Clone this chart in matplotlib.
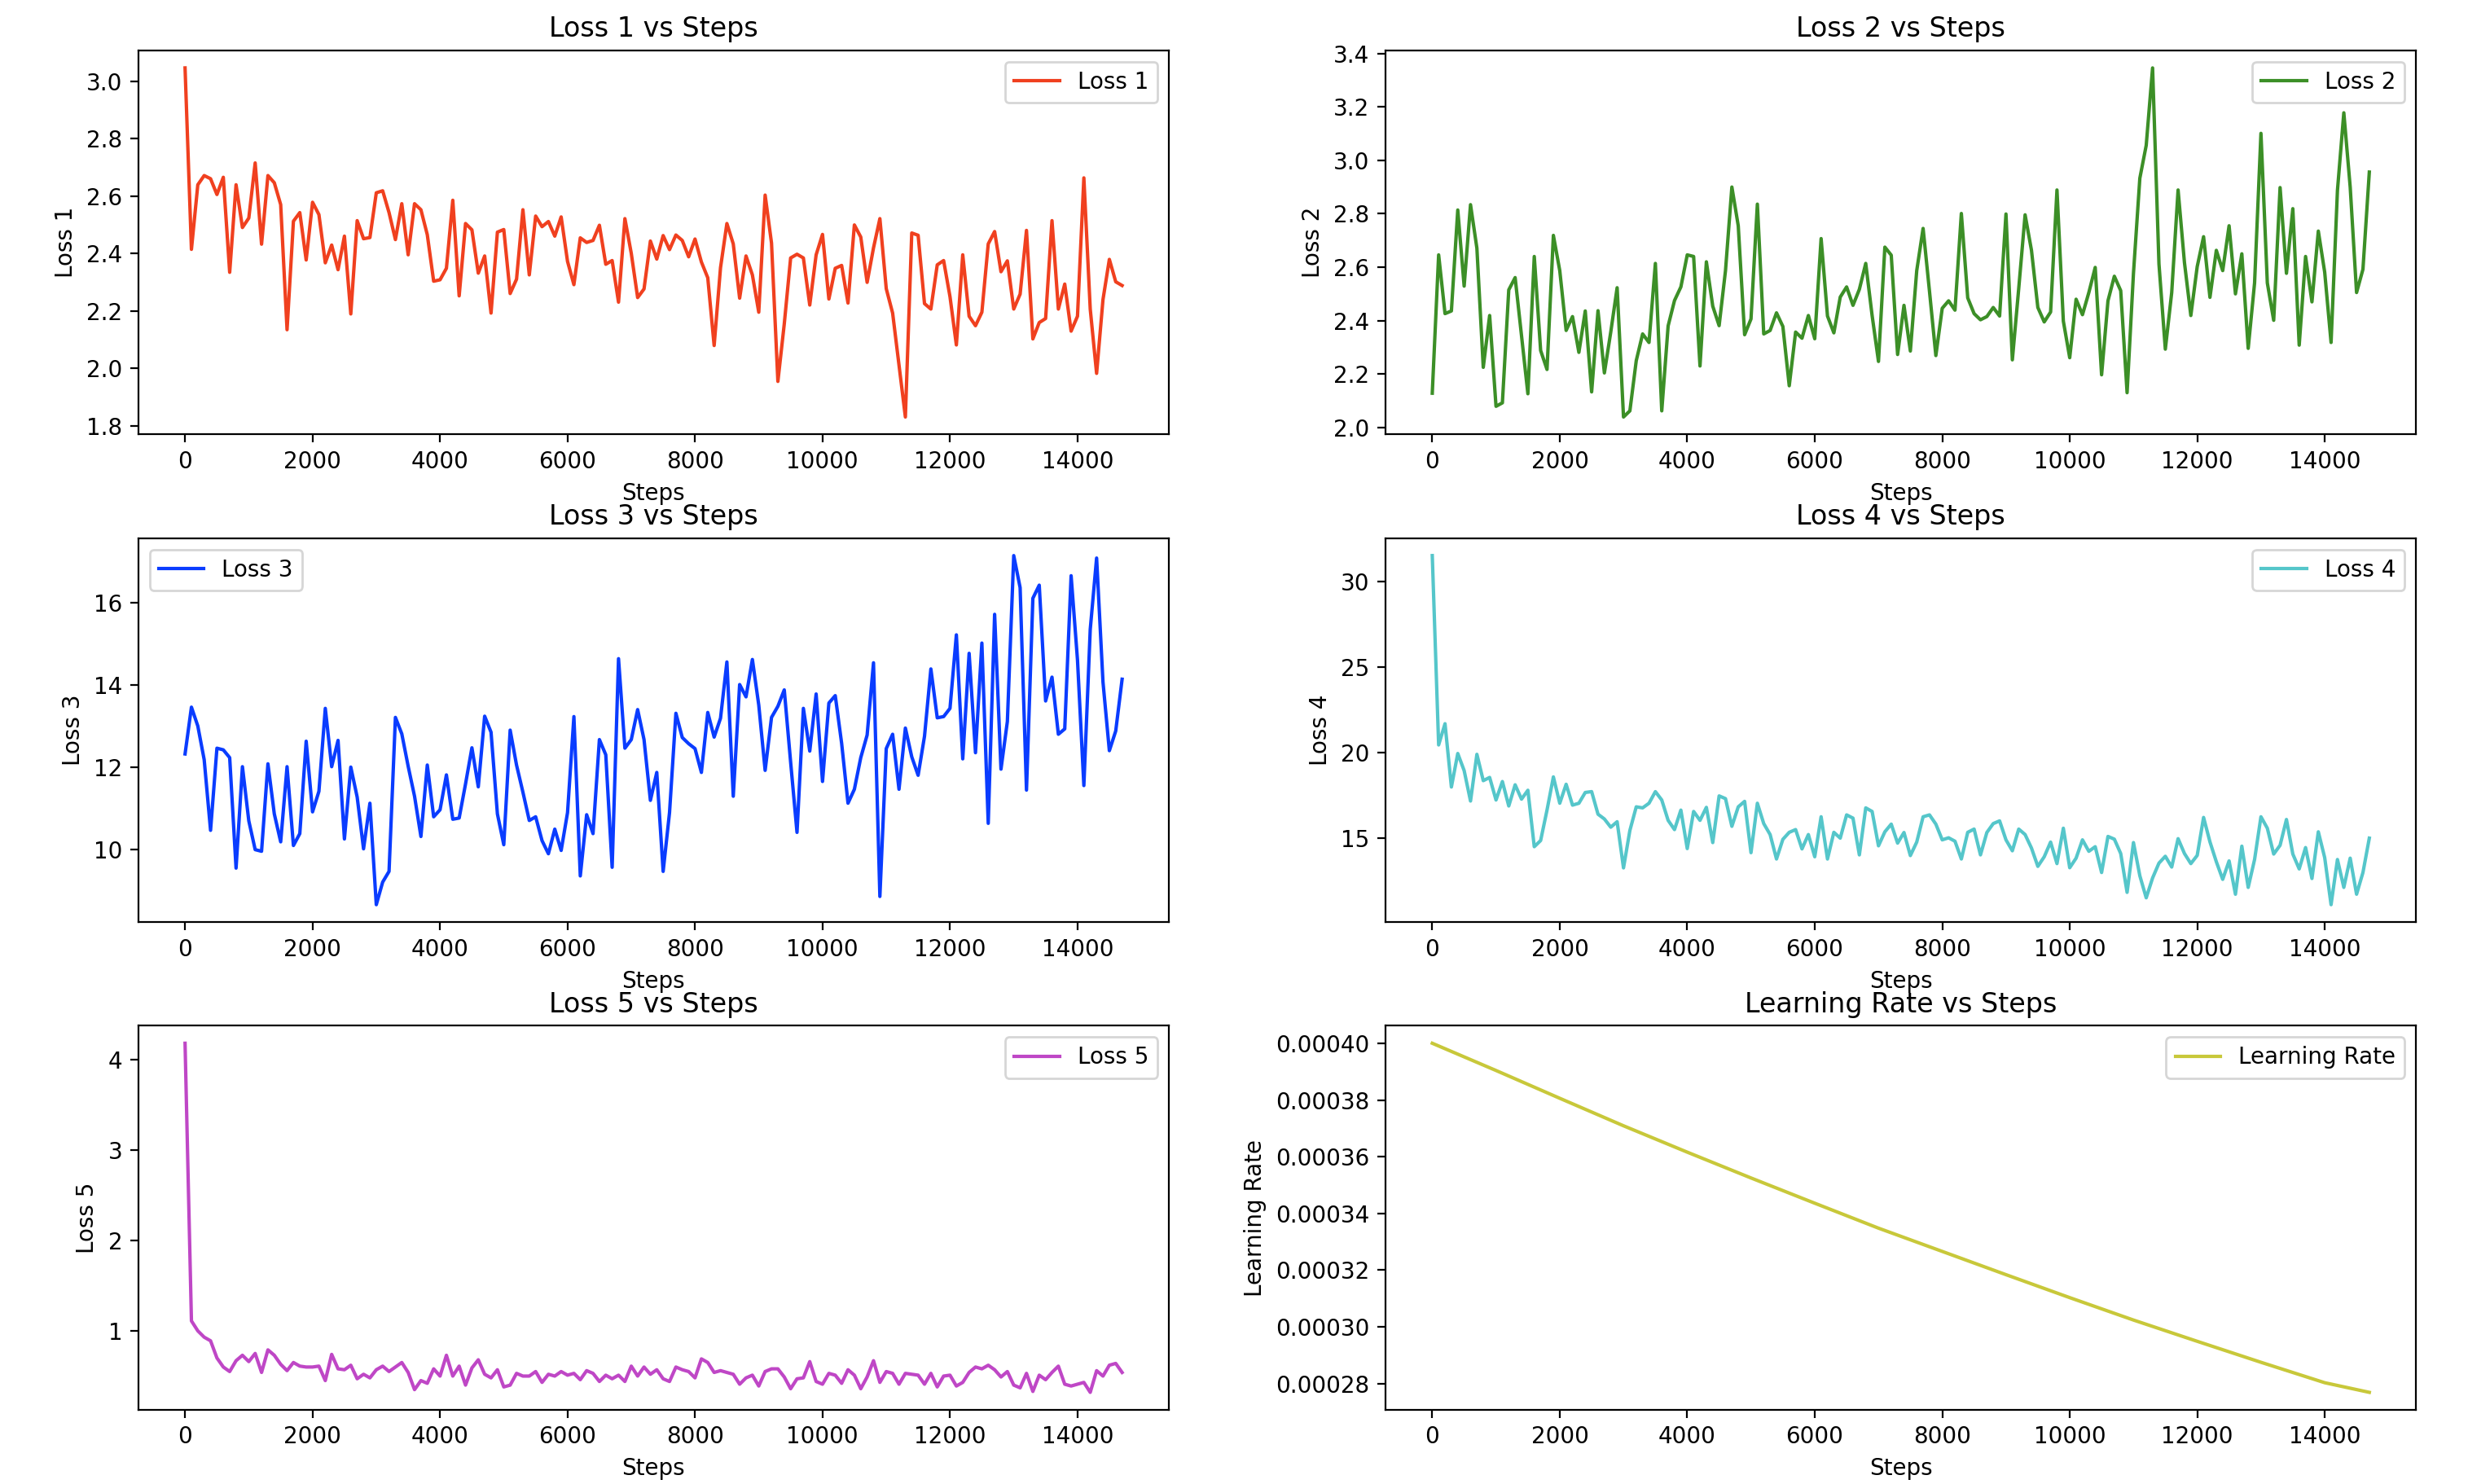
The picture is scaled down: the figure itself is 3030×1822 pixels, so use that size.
import numpy as np
import matplotlib.pyplot as plt
from matplotlib.ticker import MultipleLocator

# steps logged every 100
steps = np.arange(0, 14800, 100)

loss1 = [3.046, 2.414, 2.639, 2.671, 2.660, 2.605, 2.665, 2.334, 2.639, 2.490,
         2.523, 2.715, 2.432, 2.671, 2.646, 2.570, 2.134, 2.512, 2.542, 2.377,
         2.578, 2.535, 2.367, 2.429, 2.343, 2.460, 2.189, 2.514, 2.451, 2.455,
         2.611, 2.618, 2.542, 2.448, 2.573, 2.395, 2.573, 2.552, 2.465, 2.303,
         2.308, 2.348, 2.585, 2.252, 2.504, 2.482, 2.331, 2.391, 2.192, 2.474,
         2.483, 2.260, 2.310, 2.552, 2.325, 2.530, 2.493, 2.511, 2.460, 2.527,
         2.372, 2.291, 2.454, 2.438, 2.445, 2.498, 2.362, 2.375, 2.230, 2.521,
         2.400, 2.246, 2.276, 2.443, 2.380, 2.462, 2.413, 2.464, 2.445, 2.388,
         2.450, 2.370, 2.315, 2.079, 2.350, 2.504, 2.433, 2.244, 2.391, 2.325,
         2.195, 2.603, 2.436, 1.954, 2.154, 2.384, 2.397, 2.384, 2.220, 2.395,
         2.466, 2.241, 2.348, 2.358, 2.227, 2.499, 2.457, 2.299, 2.419, 2.521,
         2.277, 2.192, 2.012, 1.830, 2.471, 2.463, 2.225, 2.206, 2.360, 2.375,
         2.249, 2.081, 2.395, 2.181, 2.148, 2.195, 2.433, 2.476, 2.336, 2.374,
         2.206, 2.258, 2.480, 2.102, 2.159, 2.173, 2.514, 2.206, 2.293, 2.129,
         2.181, 2.663, 2.206, 1.982, 2.239, 2.379, 2.301, 2.288]

loss2 = [2.128, 2.646, 2.426, 2.436, 2.814, 2.529, 2.834, 2.671, 2.225, 2.419,
         2.079, 2.092, 2.515, 2.561, 2.342, 2.126, 2.640, 2.288, 2.217, 2.719,
         2.587, 2.363, 2.415, 2.281, 2.436, 2.133, 2.437, 2.204, 2.357, 2.523,
         2.039, 2.062, 2.250, 2.350, 2.318, 2.614, 2.062, 2.380, 2.475, 2.526,
         2.646, 2.640, 2.230, 2.620, 2.454, 2.381, 2.587, 2.900, 2.755, 2.347,
         2.406, 2.836, 2.350, 2.363, 2.429, 2.378, 2.156, 2.357, 2.334, 2.419,
         2.332, 2.707, 2.417, 2.354, 2.488, 2.526, 2.457, 2.517, 2.614, 2.419,
         2.247, 2.675, 2.645, 2.273, 2.457, 2.286, 2.587, 2.745, 2.510, 2.269,
         2.446, 2.474, 2.439, 2.801, 2.485, 2.426, 2.403, 2.415, 2.449, 2.417,
         2.799, 2.253, 2.520, 2.796, 2.663, 2.449, 2.395, 2.432, 2.889, 2.398,
         2.261, 2.480, 2.422, 2.505, 2.599, 2.197, 2.474, 2.566, 2.512, 2.130,
         2.577, 2.933, 3.056, 3.346, 2.612, 2.293, 2.505, 2.889, 2.617, 2.419,
         2.602, 2.714, 2.487, 2.663, 2.587, 2.755, 2.500, 2.650, 2.296, 2.541,
         3.101, 2.541, 2.401, 2.898, 2.577, 2.819, 2.308, 2.640, 2.470, 2.735,
         2.581, 2.318, 2.887, 3.178, 2.900, 2.505, 2.592, 2.956]

loss3 = [12.32, 13.46, 13.00, 12.18, 10.46, 12.46, 12.42, 12.23, 9.54, 12.01,
         10.69, 9.99, 9.95, 12.08, 10.86, 10.18, 12.01, 10.09, 10.38, 12.63,
         10.91, 11.41, 13.43, 12.01, 12.65, 10.25, 12.00, 11.27, 10.01, 11.12,
         8.65, 9.20, 9.46, 13.21, 12.81, 12.02, 11.29, 10.31, 12.05, 10.79,
         10.96, 11.81, 10.73, 10.76, 11.59, 12.47, 11.52, 13.24, 12.85, 10.86,
         10.11, 12.90, 12.05, 11.39, 10.70, 10.79, 10.21, 9.89, 10.49, 9.97,
         10.89, 13.23, 9.35, 10.84, 10.38, 12.67, 12.30, 9.56, 14.64, 12.46,
         12.67, 13.40, 12.67, 11.19, 11.87, 9.46, 10.89, 13.31, 12.72, 12.57,
         12.45, 11.87, 13.33, 12.73, 13.19, 14.56, 11.29, 14.01, 13.71, 14.62,
         13.51, 11.92, 13.21, 13.48, 13.88, 12.12, 10.41, 13.43, 12.39, 13.78,
         11.65, 13.56, 13.74, 12.58, 11.12, 11.46, 12.23, 12.78, 14.54, 8.85,
         12.45, 12.80, 11.46, 12.95, 12.25, 11.80, 12.75, 14.39, 13.20, 13.23,
         13.43, 15.22, 12.20, 14.77, 12.35, 15.02, 10.63, 15.72, 11.95, 13.11,
         17.15, 16.37, 11.44, 16.11, 16.43, 13.61, 14.19, 12.80, 12.93, 16.66,
         14.61, 11.55, 15.35, 17.09, 14.07, 12.40, 12.88, 14.14]

loss4 = [31.52, 20.45, 21.69, 17.99, 19.95, 18.95, 17.17, 19.90, 18.36, 18.55,
         17.23, 18.31, 16.88, 18.12, 17.28, 17.80, 14.50, 14.86, 16.64, 18.58,
         17.04, 18.15, 16.93, 17.04, 17.67, 17.72, 16.40, 16.12, 15.64, 15.96,
         13.26, 15.45, 16.83, 16.77, 17.04, 17.72, 17.23, 16.04, 15.50, 16.64,
         14.39, 16.56, 16.04, 16.80, 14.74, 17.47, 17.31, 15.69, 16.83, 17.15,
         14.15, 17.04, 15.85, 15.21, 13.78, 14.93, 15.34, 15.50, 14.37, 15.21,
         13.91, 16.25, 13.78, 15.34, 15.00, 16.36, 16.17, 14.02, 16.77, 16.56,
         14.55, 15.37, 15.82, 14.71, 15.33, 13.98, 14.77, 16.25, 16.36, 15.82,
         14.90, 15.02, 14.82, 13.78, 15.34, 15.53, 14.02, 15.33, 15.85, 16.01,
         14.90, 14.26, 15.53, 15.21, 14.42, 13.35, 13.91, 14.77, 13.51, 15.58,
         13.27, 13.83, 14.90, 14.23, 14.50, 12.99, 15.10, 14.94, 14.10, 11.83,
         14.74, 12.80, 11.51, 12.67, 13.54, 13.94, 13.31, 14.97, 14.10, 13.51,
         13.99, 16.21, 14.78, 13.62, 12.59, 13.67, 11.72, 14.53, 12.12, 13.75,
         16.25, 15.58, 14.07, 14.58, 16.09, 14.07, 13.20, 14.45, 12.64, 15.37,
         13.86, 11.11, 13.75, 12.12, 13.83, 11.72, 12.99, 15.00]

loss5 = [4.18, 1.11, 1.00, 0.93, 0.89, 0.70, 0.60, 0.55, 0.67, 0.73,
         0.66, 0.75, 0.54, 0.79, 0.73, 0.63, 0.56, 0.65, 0.61, 0.60,
         0.60, 0.61, 0.45, 0.74, 0.58, 0.57, 0.62, 0.47, 0.52, 0.48,
         0.57, 0.61, 0.55, 0.60, 0.65, 0.54, 0.35, 0.45, 0.42, 0.58,
         0.50, 0.73, 0.50, 0.61, 0.40, 0.59, 0.68, 0.52, 0.48, 0.57,
         0.38, 0.40, 0.53, 0.50, 0.50, 0.55, 0.43, 0.52, 0.50, 0.55,
         0.51, 0.53, 0.46, 0.56, 0.53, 0.44, 0.51, 0.47, 0.51, 0.44,
         0.61, 0.50, 0.60, 0.52, 0.57, 0.47, 0.44, 0.60, 0.57, 0.55,
         0.48, 0.69, 0.65, 0.54, 0.56, 0.54, 0.52, 0.41, 0.48, 0.51,
         0.39, 0.55, 0.58, 0.58, 0.49, 0.36, 0.47, 0.48, 0.66, 0.44,
         0.41, 0.53, 0.51, 0.42, 0.57, 0.51, 0.36, 0.49, 0.67, 0.43,
         0.55, 0.53, 0.41, 0.53, 0.52, 0.51, 0.41, 0.53, 0.38, 0.50,
         0.51, 0.39, 0.43, 0.54, 0.60, 0.58, 0.62, 0.57, 0.49, 0.55,
         0.40, 0.37, 0.53, 0.33, 0.51, 0.46, 0.54, 0.61, 0.41, 0.39,
         0.41, 0.43, 0.32, 0.56, 0.50, 0.62, 0.64, 0.54]

# learning rate read every 1000 steps (plus the last step)
lr_steps = [0, 1000, 2000, 3000, 4000, 5000, 6000, 7000, 8000, 9000,
            10000, 11000, 12000, 13000, 14000, 14700]
lr = [0.000400, 0.0003904, 0.0003806, 0.0003709, 0.0003616, 0.0003525,
      0.0003436, 0.0003348, 0.0003266, 0.0003184, 0.0003103, 0.0003024,
      0.0002949, 0.0002875, 0.0002803, 0.0002769]

panels = [
    (steps, loss1, 'Loss 1', '#f0401f'),
    (steps, loss2, 'Loss 2', '#3c8f27'),
    (steps, loss3, 'Loss 3', '#0a3cff'),
    (steps, loss4, 'Loss 4', '#55c6ca'),
    (steps, loss5, 'Loss 5', '#bf47c6'),
    (lr_steps, lr, 'Learning Rate', '#c8c83a'),
]

fig, axes = plt.subplots(3, 2, figsize=(15.15, 9.11))
fig.subplots_adjust(left=0.056, right=0.979, top=0.966, bottom=0.05,
                    wspace=0.21, hspace=0.27)

for ax, (x, y, name, color) in zip(axes.flat, panels):
    ax.plot(x, y, color=color, linewidth=1.5, label=name)
    ax.set_title(f'{name} vs Steps')
    ax.set_xlabel('Steps')
    ax.set_ylabel(name)
    ax.legend()

axes[0, 1].yaxis.set_major_locator(MultipleLocator(0.2))

plt.savefig('out.png', dpi=200)
